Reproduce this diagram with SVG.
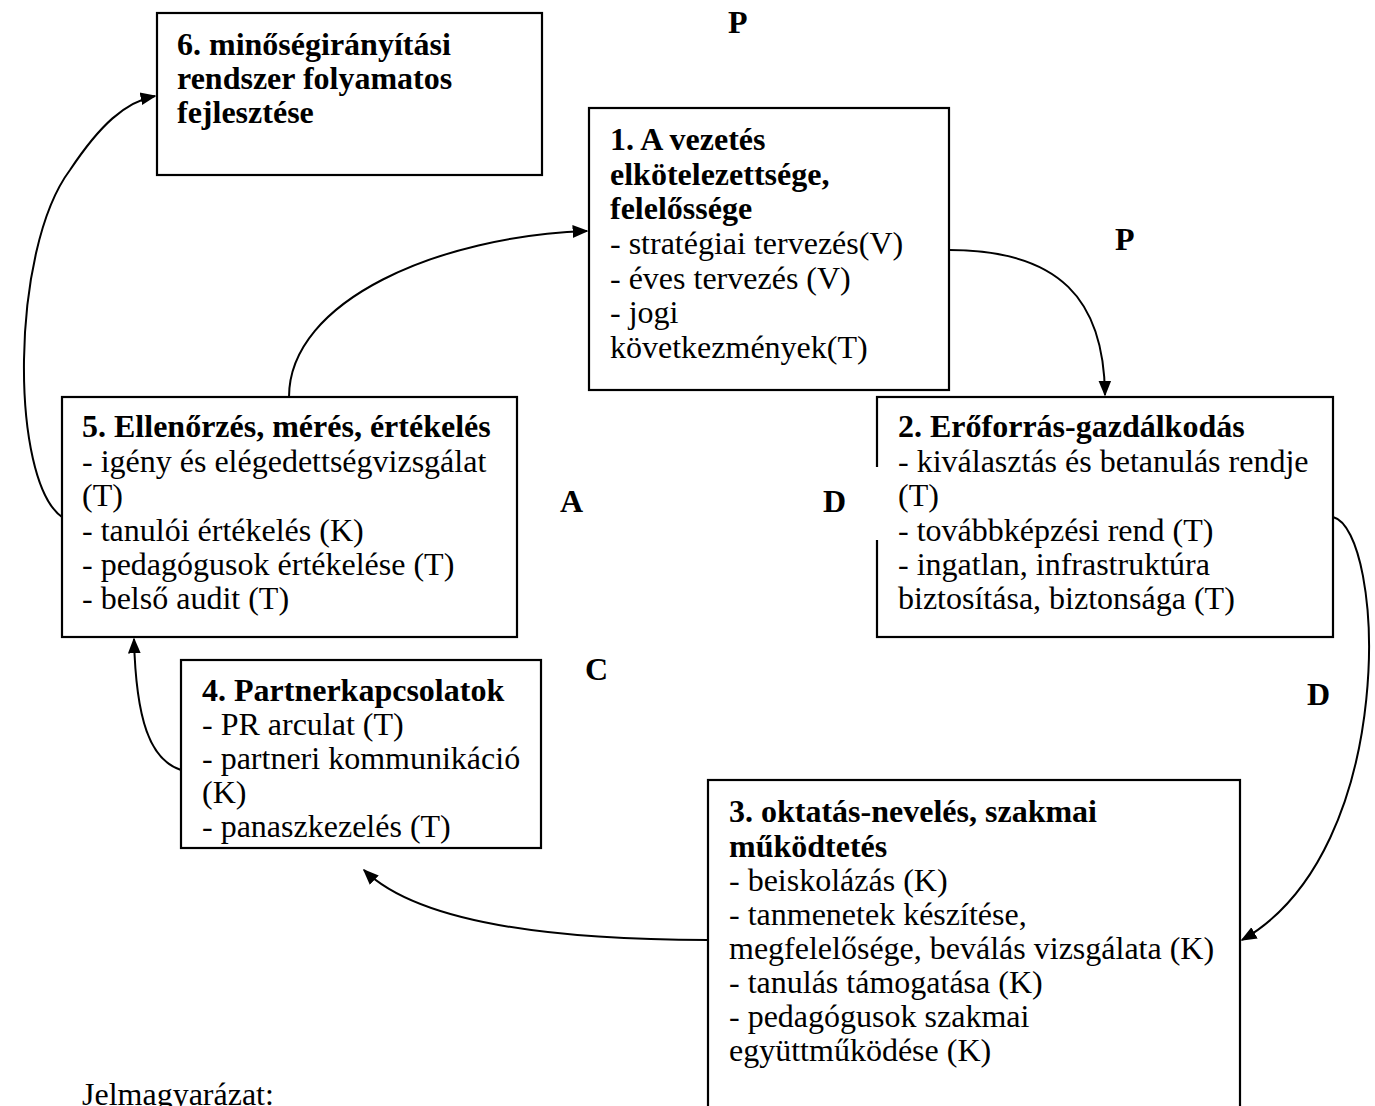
<svg xmlns="http://www.w3.org/2000/svg" width="1375" height="1106" viewBox="0 0 1375 1106">
<style>
text{font-family:"Liberation Serif","Times New Roman",serif;font-size:32px;fill:#000}
.b{font-weight:bold}
.box{fill:#fff;stroke:#000;stroke-width:2.2}
.con{fill:none;stroke:#000;stroke-width:2;marker-end:url(#ah)}
</style>
<defs>
<marker id="ah" viewBox="0 0 10 10" refX="9" refY="5" markerWidth="16" markerHeight="16" markerUnits="userSpaceOnUse" orient="auto">
<path d="M0,1 L10,5 L0,9 z" fill="#000"/>
</marker>
</defs>
<rect width="1375" height="1106" fill="#fff"/>
<g id="connectors">
<path class="con" d="M289,397 C289,300 440,236 587,231"/>
<path class="con" d="M949,250 C1060,250 1104,300 1105,395"/>
<path class="con" d="M1333,517 C1385,530 1400,850 1242,940"/>
<path class="con" d="M708,940 C560,940 420,925 364,870"/>
<path class="con" d="M181,770 C150,760 136,720 134,639"/>
<path class="con" d="M62,517 C10,480 10,250 70,170 C100,125 125,102 155,96"/>
</g>
<g id="node6">
<rect class="box" x="157" y="13" width="385" height="162"/>
<text class="b" x="177" y="55">6. minőségirányítási</text>
<text class="b" x="177" y="89">rendszer folyamatos</text>
<text class="b" x="177" y="123">fejlesztése</text>
</g>
<g id="node1">
<rect class="box" x="589" y="108" width="360" height="282"/>
<text class="b" x="610" y="150">1. A vezetés</text>
<text class="b" x="610" y="185">elkötelezettsége,</text>
<text class="b" x="610" y="219">felelőssége</text>
<text x="610" y="254">- stratégiai tervezés(V)</text>
<text x="610" y="289">- éves tervezés (V)</text>
<text x="610" y="323">- jogi</text>
<text x="610" y="358">következmények(T)</text>
</g>
<g id="node2">
<rect class="box" x="877" y="397" width="456" height="240"/>
<rect x="872" y="467" width="10" height="73" fill="#fff"/>
<text class="b" x="898" y="437">2. Erőforrás-gazdálkodás</text>
<text x="898" y="472">- kiválasztás és betanulás rendje</text>
<text x="898" y="506">(T)</text>
<text x="898" y="541">- továbbképzési rend (T)</text>
<text x="898" y="575">- ingatlan, infrastruktúra</text>
<text x="898" y="609">biztosítása, biztonsága (T)</text>
</g>
<g id="node5">
<rect class="box" x="62" y="397" width="455" height="240"/>
<text class="b" x="82" y="437">5. Ellenőrzés, mérés, értékelés</text>
<text x="82" y="472">- igény és elégedettségvizsgálat</text>
<text x="82" y="506">(T)</text>
<text x="82" y="541">- tanulói értékelés (K)</text>
<text x="82" y="575">- pedagógusok értékelése (T)</text>
<text x="82" y="609">- belső audit (T)</text>
</g>
<g id="node4">
<rect class="box" x="181" y="660" width="360" height="188"/>
<text class="b" x="202" y="701">4. Partnerkapcsolatok</text>
<text x="202" y="735">- PR arculat (T)</text>
<text x="202" y="769">- partneri kommunikáció</text>
<text x="202" y="803">(K)</text>
<text x="202" y="837">- panaszkezelés (T)</text>
</g>
<g id="node3">
<rect class="box" x="708" y="780" width="532" height="340"/>
<text class="b" x="729" y="822">3. oktatás-nevelés, szakmai</text>
<text class="b" x="729" y="857">működtetés</text>
<text x="729" y="891">- beiskolázás (K)</text>
<text x="729" y="925">- tanmenetek készítése,</text>
<text x="729" y="959">megfelelősége, beválás vizsgálata (K)</text>
<text x="729" y="993">- tanulás támogatása (K)</text>
<text x="729" y="1027">- pedagógusok szakmai</text>
<text x="729" y="1061">együttműködése (K)</text>
</g>
<g id="labels">
<text class="b" x="728" y="33">P</text>
<text class="b" x="1115" y="250">P</text>
<text class="b" x="560" y="512">A</text>
<text class="b" x="823" y="512">D</text>
<text class="b" x="585" y="680">C</text>
<text class="b" x="1307" y="705">D</text>
<text x="82" y="1105">Jelmagyarázat:</text>
</g>
</svg>
